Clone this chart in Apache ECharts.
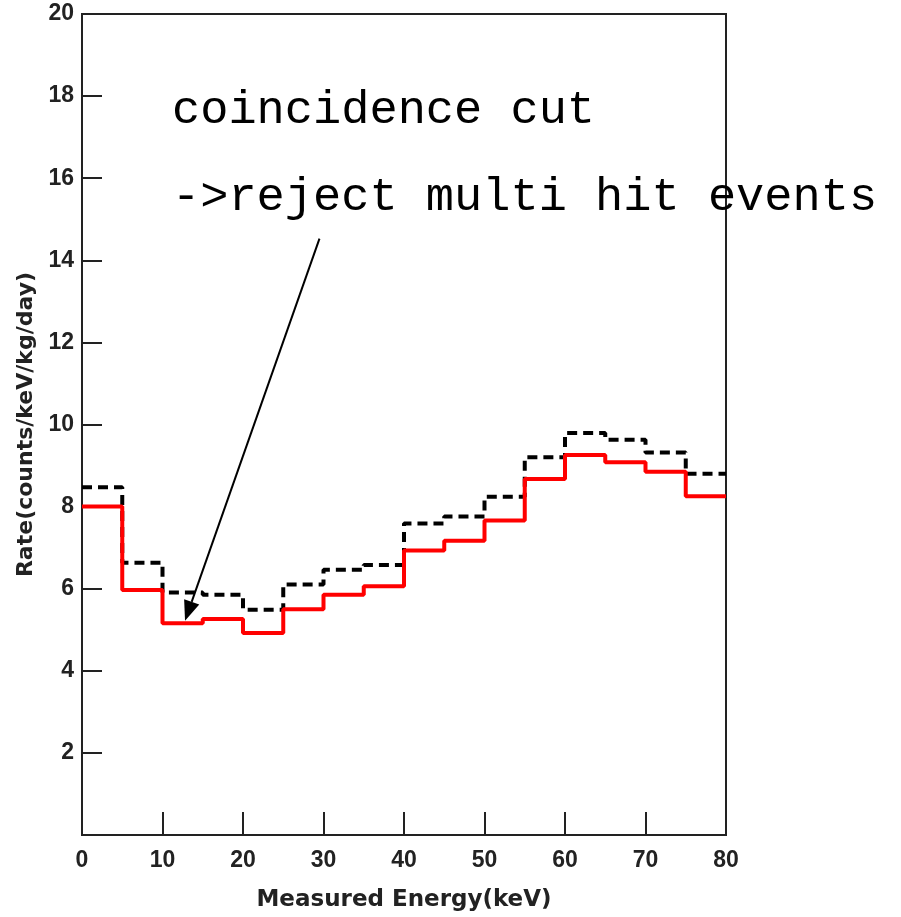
<!DOCTYPE html>
<html>
<head>
<meta charset="utf-8">
<script src="https://cdn.jsdelivr.net/npm/echarts@6/dist/echarts.min.js"></script>
<style>
  html, body { margin: 0; padding: 0; background: #fff; }
  #chart { width: 901px; height: 917px; }
</style>
</head>
<body>
<div id="chart"></div>
<script>
// Left edges of the 5 keV energy bins (keV)
const binStarts = [0, 5, 10, 15, 20, 25, 30, 35, 40, 45, 50, 55, 60, 65, 70, 75];
const binEnd = 80;

// Rate before the coincidence cut (dashed black), counts/keV/kg/day
const rateBeforeCut = [8.47, 6.63, 5.91, 5.85, 5.49, 6.10, 6.46, 6.58, 7.59, 7.76, 8.24, 9.20, 9.79, 9.63, 9.32, 8.80];
// Rate after rejecting multi-hit events (solid red)
const rateAfterCut = [8.00, 5.97, 5.16, 5.26, 4.92, 5.50, 5.85, 6.06, 6.93, 7.17, 7.66, 8.67, 9.26, 9.08, 8.85, 8.25];

// Axis ticks
const xTicks = [0, 10, 20, 30, 40, 50, 60, 70, 80];
const yTicks = [2, 4, 6, 8, 10, 12, 14, 16, 18, 20];

// Annotation arrow: from the caption down to the suppressed low-energy bins
const arrowFrom = [29.5, 14.53];
const arrowTo = [12.8, 5.22];

// Histogram outline: one point per bin start plus the closing edge
function stepPoints(values) {
  const pts = binStarts.map((x, i) => [x, values[i]]);
  pts.push([binEnd, values[values.length - 1]]);
  return pts;
}

const tickFont = { fontFamily: '"Liberation Sans", Arial, sans-serif', fontWeight: 'bold', fontSize: 23, color: '#222' };
const xNameFont = { fontFamily: '"DejaVu Sans", Verdana, sans-serif', fontWeight: 'bold', fontSize: 23, color: '#222' };
const yNameFont = { fontFamily: '"DejaVu Sans", Verdana, sans-serif', fontWeight: 'bold', fontSize: 22, color: '#222' };

// Arrow with a filled head, placed in data coordinates
function renderArrow(params, api) {
  const p0 = api.coord(arrowFrom);
  const p1 = api.coord(arrowTo);
  const dx = p1[0] - p0[0], dy = p1[1] - p0[1];
  const len = Math.sqrt(dx * dx + dy * dy);
  const ux = dx / len, uy = dy / len;
  const headLen = 20, headHalf = 8;
  const bx = p1[0] - ux * headLen, by = p1[1] - uy * headLen;
  return {
    type: 'group',
    children: [
      {
        type: 'line',
        shape: { x1: p0[0], y1: p0[1], x2: bx, y2: by },
        style: { stroke: '#000', lineWidth: 2 }
      },
      {
        type: 'polygon',
        shape: {
          points: [
            [p1[0], p1[1]],
            [bx - uy * headHalf, by + ux * headHalf],
            [bx + uy * headHalf, by - ux * headHalf]
          ]
        },
        style: { fill: '#000' }
      }
    ]
  };
}

const chart = echarts.init(document.getElementById('chart'), null, { renderer: 'canvas' });
chart.setOption({
  animation: false,
  backgroundColor: '#fff',
  grid: {
    left: 82, right: 175, top: 14, bottom: 82,
    show: true, borderColor: '#222', borderWidth: 2
  },
  xAxis: {
    type: 'value',
    min: xTicks[0], max: xTicks[xTicks.length - 1], interval: 10,
    name: 'Measured Energy(keV)',
    nameLocation: 'middle',
    nameGap: 54,
    nameTextStyle: xNameFont,
    axisLine: { show: true, lineStyle: { color: '#222', width: 2 } },
    axisTick: { show: true, inside: true, length: 23, lineStyle: { color: '#222', width: 2 } },
    axisLabel: Object.assign({ margin: 14 }, tickFont),
    splitLine: { show: false }
  },
  yAxis: {
    type: 'value',
    min: 0, max: yTicks[yTicks.length - 1], interval: 2,
    name: 'Rate(counts/keV/kg/day)',
    nameLocation: 'middle',
    nameGap: 37,
    nameTextStyle: yNameFont,
    axisLine: { show: true, lineStyle: { color: '#222', width: 2 } },
    axisTick: { show: true, inside: true, length: 20, lineStyle: { color: '#222', width: 2 } },
    axisLabel: Object.assign({ margin: 8, showMinLabel: false }, tickFont),
    splitLine: { show: false }
  },
  series: [
    {
      name: 'all events',
      type: 'line',
      step: 'end',
      data: stepPoints(rateBeforeCut),
      showSymbol: false,
      lineStyle: { color: '#000', width: 4, type: [10, 6] },
      z: 2
    },
    {
      name: 'coincidence cut',
      type: 'line',
      step: 'end',
      data: stepPoints(rateAfterCut),
      showSymbol: false,
      lineStyle: { color: '#ff0000', width: 4 },
      z: 3
    },
    {
      name: 'annotation arrow',
      type: 'custom',
      renderItem: renderArrow,
      data: [0],
      silent: true,
      clip: false,
      z: 4
    }
  ],
  graphic: [
    {
      type: 'text', left: 172, top: 87,
      style: { text: 'coincidence cut', font: '47px "Liberation Mono", monospace', fill: '#000' }
    },
    {
      type: 'text', left: 172, top: 174,
      style: { text: '->reject multi hit events', font: '47px "Liberation Mono", monospace', fill: '#000' }
    }
  ]
});
</script>
</body>
</html>
